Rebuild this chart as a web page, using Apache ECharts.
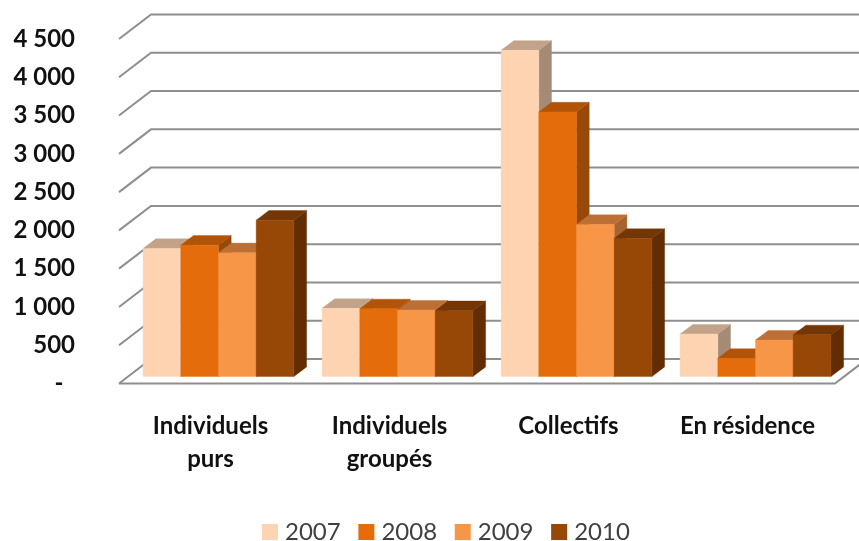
<!DOCTYPE html>
<html>
<head>
<meta charset="utf-8">
<style>html,body{margin:0;padding:0;background:#fff}#c{width:859px;height:541px;filter:blur(0.4px)}</style>
<script src="https://cdn.jsdelivr.net/npm/echarts@6/dist/echarts.min.js"></script>
</head>
<body>
<div id="c"></div>
<script>
var categories = ['Individuels\npurs', 'Individuels\ngroupés', 'Collectifs', 'En résidence'];
var years = ['2007', '2008', '2009', '2010'];
var values2007 = [1673, 890, 4261, 555];
var values2008 = [1716, 885, 3456, 237];
var values2009 = [1616, 868, 1986, 476];
var values2010 = [2042, 860, 1803, 545];
var yTicks = [0, 500, 1000, 1500, 2000, 2500, 3000, 3500, 4000, 4500];

var allValues = [values2007, values2008, values2009, values2010];
var faces = [
  {front: '#FDD3B1', top: '#C2A389', side: '#A58B75'},
  {front: '#E46C0A', top: '#B25408', side: '#984807'},
  {front: '#F79646', top: '#BD7036', side: '#A66430'},
  {front: '#974706', top: '#743604', side: '#622D02'}
];
var WALL_DX = 32, WALL_DY = 24.5;      // depth of the chart floor
var BAR_DX = 12.7, BAR_DY = 9.6;       // depth of a bar
var INSET_DX = 10, INSET_DY = 7;       // bars sit a little behind the front plane
var BAR_W = 37.7;

function face(points, color) {
  return {type: 'polygon', shape: {points: points},
    style: {fill: color, stroke: color, lineWidth: 0.4}};
}

function barRenderer(s) {
  return function (params, api) {
    var c = api.value(0), v = api.value(1);
    var p = api.coord([c, v]), b = api.coord([c, 0]);
    var x0 = p[0] + INSET_DX - 2 * BAR_W + s * BAR_W, x1 = x0 + BAR_W;
    var yT = p[1] - INSET_DY, yB = b[1] - INSET_DY;
    return {type: 'group', children: [
      face([[x1, yB], [x1 + BAR_DX, yB - BAR_DY], [x1 + BAR_DX, yT - BAR_DY], [x1, yT]], faces[s].side),
      face([[x0, yT], [x1, yT], [x1 + BAR_DX, yT - BAR_DY], [x0 + BAR_DX, yT - BAR_DY]], faces[s].top),
      face([[x0, yB], [x1, yB], [x1, yT], [x0, yT]], faces[s].front)
    ]};
  };
}

function wallRenderer(params, api) {
  var v = api.value(1);
  var y = api.coord([0, v])[1];
  var L = params.coordSys.x, R = L + params.coordSys.width;
  var lineStyle = {stroke: '#8e8e8e', lineWidth: 2, fill: null};
  var kids = [{type: 'polyline', shape: {points: [[L, y], [L + WALL_DX, y - WALL_DY], [R + WALL_DX, y - WALL_DY]]}, style: lineStyle}];
  if (v === 0) {
    kids.push({type: 'polyline', shape: {points: [[L, y], [R, y], [R + WALL_DX, y - WALL_DY]]}, style: lineStyle});
  }
  return {type: 'group', children: kids};
}

var series = [{
  type: 'custom', name: 'walls', silent: true, clip: false, z: 1,
  renderItem: wallRenderer,
  encode: {x: 0, y: 1},
  data: yTicks.map(function (t) { return [0, t]; })
}];
years.forEach(function (y, s) {
  series.push({
    type: 'custom', name: y, clip: false, z: 2 + s,
    itemStyle: {color: faces[s].front},
    renderItem: barRenderer(s),
    encode: {x: 0, y: 1},
    data: allValues[s].map(function (v, c) { return [c, v]; })
  });
});

var chart = echarts.init(document.getElementById('c'), null, {renderer: 'canvas'});
chart.setOption({
  animation: false,
  backgroundColor: '#fff',
  grid: {left: 119, right: 24, top: 39, bottom: 157.5, containLabel: false},
  legend: {
    data: years, left: 257, top: 515, icon: 'rect',
    itemWidth: 16, itemHeight: 16, itemGap: 17.7,
    textStyle: {fontFamily: 'Lato', fontSize: 24, color: '#404040', padding: [0, 0, 0, 2]}
  },
  xAxis: {
    type: 'category', data: categories,
    axisLine: {show: false}, axisTick: {show: false}, splitLine: {show: false},
    axisLabel: {fontFamily: 'Lato', fontWeight: 'bold', fontSize: 24, color: '#111', margin: 26, lineHeight: 33, interval: 0, padding: [0, 0, 0, 4]}
  },
  yAxis: {
    type: 'value', min: 0, max: 4500, interval: 500,
    axisLine: {show: false}, axisTick: {show: false}, splitLine: {show: false},
    axisLabel: {
      fontFamily: 'Lato', fontWeight: 'bold', fontSize: 24, color: '#111', margin: 44,
      formatter: function (v) {
        if (v === 0) return '-  ';
        var t = String(v);
        return t.slice(0, -3) + ' ' + t.slice(-3);
      }
    }
  },
  series: series
});
</script>
</body>
</html>
